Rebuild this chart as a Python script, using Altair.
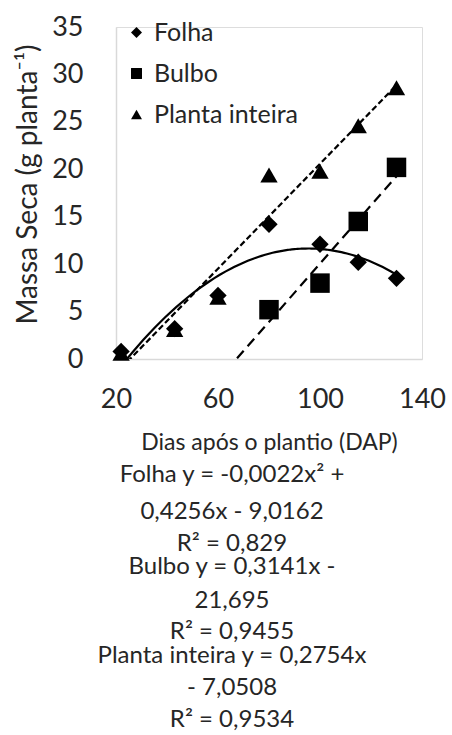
import altair as alt
import pandas as pd

# ---- data ----
series_names = ["Folha", "Bulbo", "Planta inteira"]
series_shapes = ["diamond", "square", "triangle-up"]
dap_folha = [22, 43, 60, 80, 100, 115, 130]
val_folha = [0.8, 3.2, 6.7, 14.2, 12.1, 10.2, 8.5]
dap_bulbo = [80, 100, 115, 130]
val_bulbo = [5.2, 8.0, 14.5, 20.2]
dap_planta = [22, 43, 60, 80, 100, 115, 130]
val_planta = [0.6, 3.1, 6.5, 19.4, 19.8, 24.6, 28.6]

x_ticks = [20, 60, 100, 140]
y_ticks = [0, 5, 10, 15, 20, 25, 30, 35]

equation_lines = [
    "Folha y = -0,0022x² +",
    "0,4256x - 9,0162",
    "R² = 0,829",
    "Bulbo y = 0,3141x -",
    "21,695",
    "R² = 0,9455",
    "Planta inteira y = 0,2754x",
    "- 7,0508",
    "R² = 0,9534",
]
equation_y = [448, 485, 517, 540, 574, 605, 629, 661, 693]

FONT = "Lato"
TXT = "#262626"

rows = []
for d, v in zip(dap_folha, val_folha):
    rows.append({"serie": "Folha", "DAP": d, "valor": v})
for d, v in zip(dap_bulbo, val_bulbo):
    rows.append({"serie": "Bulbo", "DAP": d, "valor": v})
for d, v in zip(dap_planta, val_planta):
    rows.append({"serie": "Planta inteira", "DAP": d, "valor": v})
df = pd.DataFrame(rows)

xscale = alt.Scale(domain=[20, 140], nice=False, zero=False)
yscale = alt.Scale(domain=[0, 35], nice=False)

x_enc = alt.X("DAP:Q", scale=xscale,
              axis=alt.Axis(values=x_ticks, title="Dias após o plantio (DAP)",
                            grid=False, ticks=False, domainColor="#d9d9d9", domainWidth=1.5,
                            labelFontSize=27, titleFontSize=23, labelFont=FONT,
                            titleFont=FONT, labelColor=TXT, titleColor=TXT,
                            titleFontWeight="normal", labelPadding=27,
                            titlePadding=19, labelFlush=False))
y_enc = alt.Y("valor:Q", scale=yscale,
              axis=alt.Axis(values=y_ticks, title="Massa Seca (g planta⁻¹)",
                            grid=False, ticks=False, domainColor="#d9d9d9", domainWidth=1.5,
                            labelFontSize=27, titleFontSize=28, labelFont=FONT,
                            titleFont=FONT, labelColor=TXT, titleColor=TXT,
                            titleFontWeight="normal", labelPadding=33,
                            titlePadding=9, titleY=157, labelFlush=False))

shape_enc = alt.Shape(
    "serie:N",
    scale=alt.Scale(domain=series_names, range=series_shapes),
    legend=alt.Legend(title=None, orient="none", legendX=8, legendY=-7,
                      labelFontSize=25, labelFont=FONT, labelColor=TXT,
                      rowPadding=15, symbolSize=120, labelOffset=5,
                      symbolFillColor="black", symbolStrokeColor="black"),
)

base = alt.Chart(df)

marker_sizes = {"Folha": 300, "Bulbo": 380, "Planta inteira": 300}
point_layers = [
    base.transform_filter(alt.datum.serie == s).mark_point(
        filled=True, opacity=1, color="black", size=marker_sizes[s]
    ).encode(x=x_enc, y=y_enc, shape=shape_enc)
    for s in series_names
]

fit_folha = base.transform_filter(alt.datum.serie == "Folha").transform_regression(
    "DAP", "valor", method="poly", order=2, extent=[22, 130]
).mark_line(color="black", strokeWidth=2.2, clip=True).encode(x="DAP:Q", y="valor:Q")

fit_bulbo = base.transform_filter(alt.datum.serie == "Bulbo").transform_regression(
    "DAP", "valor", method="linear", extent=[22, 130]
).mark_line(color="black", strokeWidth=2.2, strokeDash=[10, 6], clip=True).encode(
    x="DAP:Q", y="valor:Q")

fit_planta = base.transform_filter(alt.datum.serie == "Planta inteira").transform_regression(
    "DAP", "valor", method="linear", extent=[22, 130]
).mark_line(color="black", strokeWidth=2.2, strokeDash=[6, 3], clip=True).encode(
    x="DAP:Q", y="valor:Q")

eq_df = pd.DataFrame({"txt": equation_lines, "py": equation_y})
equations = alt.Chart(eq_df).mark_text(
    font=FONT, fontSize=24, color=TXT, align="center", baseline="middle"
).encode(
    text="txt:N",
    x=alt.value(116),
    y=alt.Y("py:Q", scale=None),
)

chart = alt.layer(fit_folha, fit_bulbo, fit_planta, *point_layers, equations).properties(
    width=306, height=332,
    padding={"left": 116, "top": 27, "right": 30, "bottom": 376},
    autosize=alt.AutoSizeParams(type="none"),
).configure_view(stroke=None).configure(background="white")

chart.save("out.html", embed_options={"renderer": "svg", "actions": False})
